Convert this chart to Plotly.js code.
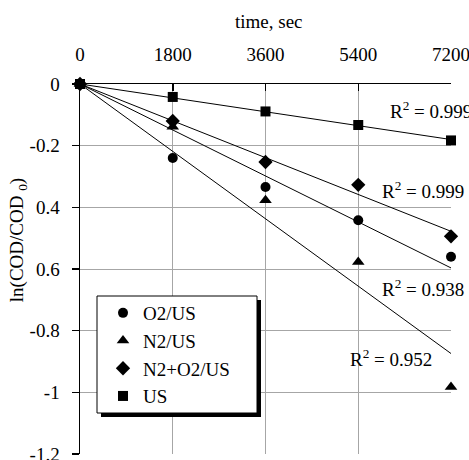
<!DOCTYPE html>
<html><head><meta charset="utf-8">
<script src="https://cdn.plot.ly/plotly-3.0.1.min.js"></script>
<style>html,body{margin:0;padding:0;background:#fff}#c{width:469px;height:460px}</style>
</head><body><div id="c"></div>
<script>
const timeSec = [0, 1800, 3600, 5400, 7200];
const o2us   = [0, -0.24, -0.334, -0.442, -0.56];
const n2us   = [0, -0.139, -0.377, -0.577, -0.983];
const n2o2us = [0, -0.12, -0.253, -0.327, -0.494];
const usOnly = [0, -0.042, -0.089, -0.133, -0.183];
const seriesNames = ['O2/US', 'N2/US', 'N2+O2/US', 'US'];
const r2Labels = ['R<sup>2</sup> = 0.999', 'R<sup>2</sup> = 0.999', 'R<sup>2</sup> = 0.938', 'R<sup>2</sup> = 0.952'];
const yTickVals = [0, -0.2, -0.4, -0.6, -0.8, -1, -1.2];
const yTickText = ['0', '-0.2', '0.4', '0.6', '-0.8', '-1', '-1.2'];
const xTickVals = [0, 1800, 3600, 5400, 7200];

const FONT = "'Liberation Serif', 'Times New Roman', Times, serif";
const series = [o2us, n2us, n2o2us, usOnly];
const symbols = ['circle', 'triangle-up', 'diamond', 'square'];
const sizes = [10, 11, 11, 10];

function slopeThroughOrigin(x, y) {
  let sxy = 0, sxx = 0;
  for (let i = 0; i < x.length; i++) { sxy += x[i] * y[i]; sxx += x[i] * x[i]; }
  return sxy / sxx;
}

const traces = [];
series.forEach((ys, i) => {
  const k = slopeThroughOrigin(timeSec, ys);
  const xe = timeSec[timeSec.length - 1];
  traces.push({x: [0, xe], y: [0, k * xe], mode: 'lines', line: {color: '#000', width: 1},
    showlegend: false, hoverinfo: 'skip', cliponaxis: false});
});
series.forEach((ys, i) => {
  traces.push({x: timeSec, y: ys, name: seriesNames[i], mode: 'markers', cliponaxis: false,
    marker: {symbol: symbols[i], size: sizes[i], color: '#000'}});
});

const r2X = [5980, 5820, 5820, 5200];
const r2Y = [-0.083, -0.345, -0.66, -0.888];

const annotations = r2Labels.map((t, i) => ({
  x: r2X[i], y: r2Y[i], xref: 'x', yref: 'y', text: t, showarrow: false,
  xanchor: 'left', yanchor: 'middle', font: {family: FONT, size: 19, color: '#000'}
}));
annotations.push({xref: 'paper', yref: 'paper', x: 0.509, y: 1.168, text: 'time, sec', showarrow: false,
  xanchor: 'center', yanchor: 'middle', font: {family: FONT, size: 19, color: '#000'}});
annotations.push({xref: 'paper', yref: 'paper', x: -0.167, y: 0.578, text: 'ln(COD/COD <sub>0</sub>)', showarrow: false,
  textangle: -90, xanchor: 'center', yanchor: 'middle', font: {family: FONT, size: 19, color: '#000'}});

const W = 371, H = 370;
function px2x(p) { return (p - 80) / W; }
function px2y(p) { return (454 - p) / H; }

const layout = {
  width: 469, height: 460,
  margin: {l: 80, r: 18, t: 84, b: 6},
  paper_bgcolor: '#fff', plot_bgcolor: '#fff',
  font: {family: FONT, size: 19, color: '#000'},
  showlegend: true,
  xaxis: {side: 'top', range: [0, 7200], tickvals: xTickVals, ticktext: xTickVals.map(String),
    ticks: 'inside', ticklen: 7, tickcolor: '#000', tickwidth: 1.5,
    showline: true, linecolor: '#000', linewidth: 1.5,
    showgrid: true, gridcolor: '#a6a6a6', gridwidth: 1, zeroline: false,
    ticklabeloverflow: 'allow', ticklabelstandoff: 14,
    tickfont: {family: FONT, size: 19, color: '#000'}},
  yaxis: {range: [-1.2, 0], tickvals: yTickVals, ticktext: yTickText,
    ticks: 'outside', ticklen: 7, tickcolor: '#000', tickwidth: 1.5,
    showline: true, linecolor: '#000', linewidth: 1.5,
    showgrid: true, gridcolor: '#a6a6a6', gridwidth: 1, zeroline: false,
    ticklabeloverflow: 'allow', ticklabelstandoff: 8,
    tickfont: {family: FONT, size: 19, color: '#000'}},
  legend: {x: px2x(103), y: px2y(294), xanchor: 'left', yanchor: 'top',
    bgcolor: 'rgba(0,0,0,0)', borderwidth: 0, font: {family: FONT, size: 19, color: '#000'},
    tracegroupgap: 6, traceorder: 'normal', itemwidth: 30},
  shapes: [
    {type: 'rect', xref: 'paper', yref: 'paper', x0: px2x(101), x1: px2x(261), y0: px2y(417), y1: px2y(300),
      fillcolor: '#000', line: {width: 0}, layer: 'above'},
    {type: 'rect', xref: 'paper', yref: 'paper', x0: px2x(97), x1: px2x(257), y0: px2y(413), y1: px2y(296),
      fillcolor: '#fff', line: {color: '#000', width: 1}, layer: 'above'}
  ],
  annotations: annotations
};

Plotly.newPlot('c', traces, layout, {staticPlot: true, displayModeBar: false});
</script></body></html>
